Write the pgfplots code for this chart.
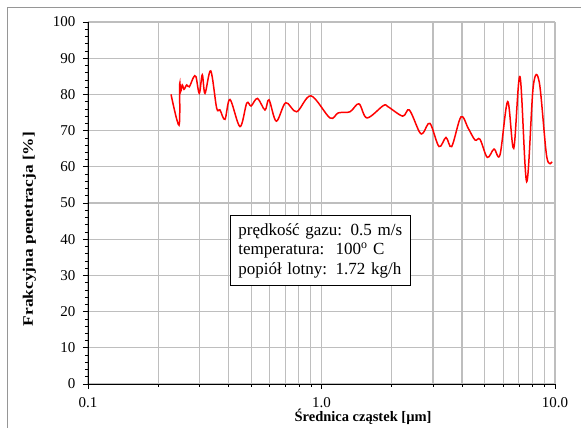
\documentclass[border=0pt]{standalone}
\usepackage{pgfplots}
\pgfplotsset{compat=1.18}
\usepackage{graphicx}
\usepackage{fontspec}
\setmainfont{Liberation Serif}
\definecolor{gridgray}{RGB}{190,190,190}
\definecolor{framegray}{RGB}{150,150,150}
\begin{document}
\begin{tikzpicture}[x=1pt,y=1pt]
\useasboundingbox (-88,-44) rectangle (493,384);
\draw[framegray,line width=0.8pt] (-81,-50) -- (-81,377) -- (500,377);
\begin{axis}[
  at={(0,0)}, anchor=south west,
  scale only axis, width=467pt, height=362pt,
  xmode=log, xmin=0.1, xmax=10, ymin=0, ymax=100,
  xtick={0.1,1,10}, xticklabels={0.1,1.0,10.0},
  ytick={0,10,...,100}, minor y tick num=4,
  axis x line=bottom, axis y line=left,
  axis line style={-, black, line width=0.8pt},
  tick align=outside,
  major tick length=5pt, minor tick length=3pt,
  tick style={black, line width=0.6pt},
  xmajorgrids, xminorgrids, ymajorgrids,
  major grid style={gridgray, line width=1.2pt},
  minor grid style={gridgray, line width=1.2pt},
  /pgf/number format/assume math mode=true,
  tick label style={font=\fontsize{15}{18}\selectfont},
  yticklabel style={xshift=-4pt},
  xticklabel style={yshift=-5pt},
  xlabel={\textbf{Średnica cząstek [µm]}},
  ylabel={\scalebox{1.2}[1]{\textbf{Frakcyjna penetracja [\%]}}},
  xlabel style={at={(axis description cs:0.589,0)}, anchor=base, yshift=-38pt, font=\fontsize{14.5}{17}\selectfont},
  ylabel style={at={([xshift=-55pt]axis description cs:0,0.428)}, anchor=base, font=\fontsize{14.5}{17}\selectfont},
  clip=false,
]
\addplot[red, line width=1.5pt, smooth, tension=0.55] coordinates {
(0.2268,80.0)
(0.2454,71.5)
(0.2470,82.9)
(0.2494,80.8)
(0.2534,82.6)
(0.2577,81.4)
(0.2647,82.6)
(0.2716,82.1)
(0.2825,84.6)
(0.2900,84.9)
(0.2997,80.3)
(0.3087,85.4)
(0.3170,80.3)
(0.3355,86.5)
(0.3557,76.2)
(0.3675,75.7)
(0.3860,73.1)
(0.4056,78.6)
(0.4477,71.1)
(0.4786,77.6)
(0.4995,76.8)
(0.5317,78.9)
(0.5728,75.7)
(0.5959,78.5)
(0.6404,72.6)
(0.7025,77.7)
(0.7831,75.2)
(0.9017,79.6)
(1.087,73.5)
(1.180,74.9)
(1.324,75.2)
(1.447,77.4)
(1.566,73.5)
(1.840,76.9)
(1.927,76.6)
(2.227,74.0)
(2.377,75.7)
(2.623,69.7)
(2.729,69.4)
(2.915,72.0)
(3.186,65.6)
(3.414,68.1)
(3.611,65.6)
(3.958,73.8)
(4.253,70.6)
(4.545,67.4)
(4.773,67.6)
(5.130,62.6)
(5.481,64.9)
(5.814,63.3)
(6.272,78.0)
(6.656,65.1)
(7.081,84.9)
(7.565,55.9)
(8.073,82.3)
(8.567,83.3)
(9.216,62.8)
(9.710,61.4)
};
\node[draw=black, line width=0.8pt, fill=white, anchor=north west, align=left,
  inner xsep=8pt, inner ysep=8pt, text width=164pt, font=\fontsize{17}{19.5}\selectfont]
  at (axis description cs:0.304,0.467)
  {prędkość gazu: 0.5 m/s\\temperatura:\ \ 100\textsuperscript{o} C\\popiół lotny: 1.72 kg/h};
\end{axis}
\end{tikzpicture}
\end{document}
